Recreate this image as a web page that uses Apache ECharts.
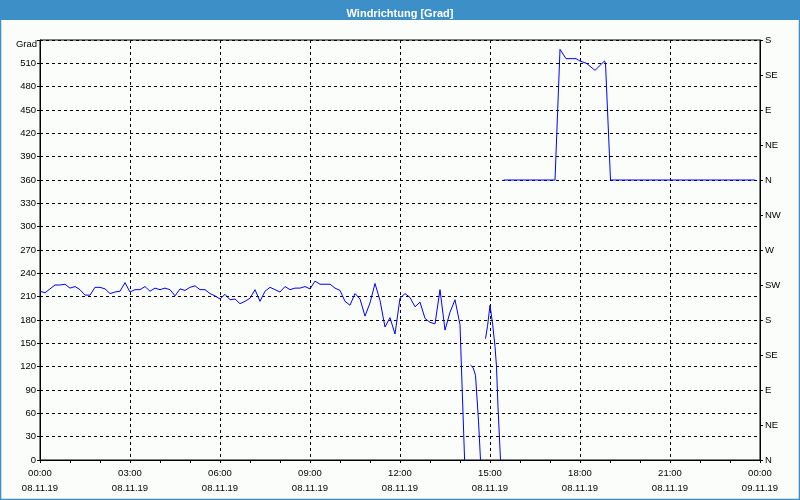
<!DOCTYPE html>
<html>
<head>
<meta charset="utf-8">
<script src="https://cdn.jsdelivr.net/npm/echarts@6/dist/echarts.min.js"></script>
<style>
html,body{margin:0;padding:0;background:#fbfdfb;}
#chart{width:800px;height:500px;}
</style>
</head>
<body>
<div id="chart"></div>
<script>
// minutes since 08.11.19 00:00 ; null = gap in the line
var times = [
  0,10,20,30,40,50,60,70,80,90,100,110,120,130,140,150,160,170,180,190,
  200,210,220,230,240,250,260,270,280,290,300,310,320,330,340,350,360,370,380,390,
  400,410,420,430,440,450,460,470,480,490,500,510,520,530,540,550,560,570,580,590,
  600,610,620,630,640,650,660,670,680,690,700,710,720,730,740,750,760,770,780,790,
  800,810,820,830,840,850,
  855,
  861,866,871,877,881,
  885,
  891,895,900,905,910,913,916,921,
  924,
  927,1030,1040,1052,1072,1080,1093,1110,1129,1131,1141,1430
];
var values = [
  217,215,220,225,225,226,221,223,219,212,212,222,222,220,214,216,217,228,216,219,
  219,223,217,221,219,221,219,211,220,218,222,224,219,219,214,211,207,213,206,207,
  201,204,208,219,204,217,222,219,216,223,219,221,221,223,220,230,226,226,226,221,
  218,204,199,214,207,185,202,227,205,171,183,162,208,214,209,197,203,182,177,175,
  219,167,190,206,174,-15,
  null,
  122,119,109,50,0,
  null,
  156,172,199,176,146,120,68,0,
  null,
  360,360,528,516,516,513,510,501,513,510,360,360
];
var timeLabels = ['00:00','03:00','06:00','09:00','12:00','15:00','18:00','21:00','00:00'];
var dateLabels = ['08.11.19','08.11.19','08.11.19','08.11.19','08.11.19','08.11.19','08.11.19','08.11.19','09.11.19'];
var compassLabels = ['N','NE','E','SE','S','SW','W','NW','N','NE','E','SE','S'];
var titleText = 'Windrichtung [Grad]';
var unitText = 'Grad';

var data = times.map(function(t, i){ return [t, values[i]]; });
var FONT = "'Liberation Sans', Arial, sans-serif";
var chart = echarts.init(document.getElementById('chart'), null, {renderer:'canvas'});
chart.setOption({
  animation: false,
  backgroundColor: '#fbfdfb',
  title: {
    text: titleText, left: 'center', top: 3,
    textStyle: {color:'#ffffff', fontSize: 11, fontWeight: 'bold', fontFamily: FONT}
  },
  graphic: [
    {type:'rect', left:0, top:0, z:-1, shape:{width:800, height:20}, style:{fill:'#3c8fc7'}},
    {type:'rect', z:-1, shape:{x:0.5, y:0.5, width:799, height:499}, style:{fill:null, stroke:'#3c8fc7', lineWidth:1.5}}
  ],
  grid: {left:40, right:40, top:40, bottom:40, show:true, borderColor:'#000', borderWidth:1, backgroundColor:'transparent'},
  xAxis: {
    type:'value', min:0, max:1440, interval:180,
    axisLine:{show:true, lineStyle:{color:'#000', width:1}},
    axisTick:{show:true, length:3, lineStyle:{color:'#000'}},
    minorTick:{show:true, splitNumber:3, length:3, lineStyle:{color:'#000'}},
    splitLine:{show:true, lineStyle:{color:'#000', type:[3,3], width:1}},
    axisLabel:{
      margin:6, fontSize:9.5, lineHeight:15, color:'#000', fontFamily:FONT,
      formatter:function(v){ var i = Math.round(v/180); return timeLabels[i] + '\n' + dateLabels[i]; }
    }
  },
  yAxis: [
    {
      type:'value', min:0, max:540, interval:30, position:'left',
      name: unitText, nameLocation:'end', nameGap:-4,
      nameTextStyle:{align:'right', verticalAlign:'middle', padding:[0,3,0,0], fontSize:9.5, color:'#000', fontFamily:FONT},
      axisLine:{show:true, lineStyle:{color:'#000'}},
      axisTick:{show:true, length:3, lineStyle:{color:'#000'}},
      splitLine:{show:true, lineStyle:{color:'#000', type:[3,3], width:1}},
      axisLabel:{margin:4, fontSize:9.5, color:'#000', fontFamily:FONT,
        formatter:function(v){ return v >= 540 ? '' : String(v); }}
    },
    {
      type:'value', min:0, max:540, interval:45, position:'right',
      axisLine:{show:true, lineStyle:{color:'#000'}},
      axisTick:{show:true, length:3, lineStyle:{color:'#000'}},
      splitLine:{show:false},
      axisLabel:{margin:5, fontSize:9.5, color:'#000', fontFamily:FONT,
        formatter:function(v){ return compassLabels[Math.round(v/45)]; }}
    }
  ],
  series: [{
    type:'line', data:data, yAxisIndex:0, showSymbol:false, symbol:'none',
    connectNulls:false, clip:true,
    lineStyle:{color:'#0000ff', width:1}
  }]
});
</script>
</body>
</html>
